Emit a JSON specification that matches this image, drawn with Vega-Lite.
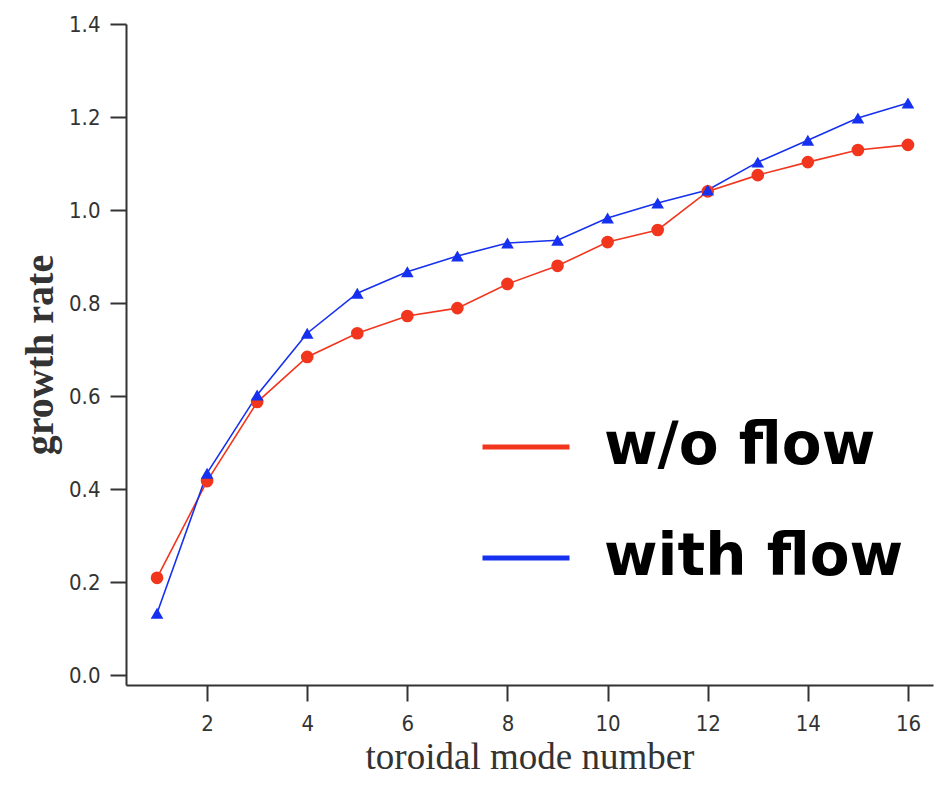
{
  "$schema": "https://vega.github.io/schema/vega-lite/v6.json",
  "width": 807,
  "height": 661,
  "autosize": {"type": "none"},
  "padding": {"left": 126, "top": 24, "right": 1, "bottom": 101},
  "background": "white",
  "config": {
    "view": {"stroke": null},
    "axis": {"grid": false, "domainColor": "#333333", "domainWidth": 2, "tickColor": "#333333", "tickWidth": 2, "labelColor": "#333333", "labelFont": "DejaVu Sans Condensed, Liberation Sans Narrow, sans-serif", "labelFontSize": 22, "titleColor": "#333333"}
  },
  "data": {
    "values": [
      {"n": 1, "rate": 0.209, "case": "w/o flow"},
      {"n": 2, "rate": 0.417, "case": "w/o flow"},
      {"n": 3, "rate": 0.587, "case": "w/o flow"},
      {"n": 4, "rate": 0.684, "case": "w/o flow"},
      {"n": 5, "rate": 0.735, "case": "w/o flow"},
      {"n": 6, "rate": 0.772, "case": "w/o flow"},
      {"n": 7, "rate": 0.789, "case": "w/o flow"},
      {"n": 8, "rate": 0.841, "case": "w/o flow"},
      {"n": 9, "rate": 0.88, "case": "w/o flow"},
      {"n": 10, "rate": 0.931, "case": "w/o flow"},
      {"n": 11, "rate": 0.957, "case": "w/o flow"},
      {"n": 12, "rate": 1.04, "case": "w/o flow"},
      {"n": 13, "rate": 1.075, "case": "w/o flow"},
      {"n": 14, "rate": 1.103, "case": "w/o flow"},
      {"n": 15, "rate": 1.129, "case": "w/o flow"},
      {"n": 16, "rate": 1.14, "case": "w/o flow"},
      {"n": 1, "rate": 0.133, "case": "with flow"},
      {"n": 2, "rate": 0.434, "case": "with flow"},
      {"n": 3, "rate": 0.602, "case": "with flow"},
      {"n": 4, "rate": 0.735, "case": "with flow"},
      {"n": 5, "rate": 0.821, "case": "with flow"},
      {"n": 6, "rate": 0.867, "case": "with flow"},
      {"n": 7, "rate": 0.901, "case": "with flow"},
      {"n": 8, "rate": 0.929, "case": "with flow"},
      {"n": 9, "rate": 0.935, "case": "with flow"},
      {"n": 10, "rate": 0.983, "case": "with flow"},
      {"n": 11, "rate": 1.015, "case": "with flow"},
      {"n": 12, "rate": 1.043, "case": "with flow"},
      {"n": 13, "rate": 1.103, "case": "with flow"},
      {"n": 14, "rate": 1.15, "case": "with flow"},
      {"n": 15, "rate": 1.198, "case": "with flow"},
      {"n": 16, "rate": 1.23, "case": "with flow"}
    ]
  },
  "encoding": {
    "x": {
      "field": "n", "type": "quantitative",
      "scale": {"domain": [0.38, 16.5], "nice": false, "zero": false},
      "axis": {"values": [2, 4, 6, 8, 10, 12, 14, 16], "tickSize": 16, "labelPadding": 12, "title": "toroidal mode number", "titleFont": "Liberation Serif", "titleFontSize": 37, "titleFontWeight": "normal", "titlePadding": 5}
    },
    "y": {
      "field": "rate", "type": "quantitative",
      "scale": {"domain": [-0.0215, 1.4], "nice": false, "zero": false},
      "axis": {"values": [0, 0.2, 0.4, 0.6, 0.8, 1.0, 1.2, 1.4], "format": ".1f", "tickSize": 16, "labelPadding": 10, "title": "growth rate", "titleFont": "Liberation Serif", "titleFontSize": 40, "titleFontWeight": "bold", "titlePadding": 8}
    }
  },
  "resolve": {"legend": {"color": "independent"}},
  "layer": [
    {
      "mark": {"type": "line", "strokeWidth": 1.6},
      "encoding": {
        "color": {
          "field": "case", "type": "nominal",
          "scale": {"domain": ["w/o flow", "with flow"], "range": ["#f2361e", "#1530ee"]},
          "legend": {
            "orient": "none", "legendX": 354, "legendY": 377, "title": null,
            "symbolType": "stroke", "symbolSize": 7569, "symbolStrokeWidth": 5,
            "labelFont": "DejaVu Sans", "labelFontWeight": "bold", "labelFontSize": 58, "labelColor": "black",
            "labelOffset": 32, "rowPadding": 36, "padding": 0, "labelLimit": 400
          }
        }
      }
    },
    {
      "mark": {"type": "point", "filled": true, "opacity": 1},
      "encoding": {
        "color": {"field": "case", "type": "nominal", "scale": {"domain": ["w/o flow", "with flow"], "range": ["#f2361e", "#1530ee"]}, "legend": null},
        "shape": {"field": "case", "type": "nominal", "scale": {"domain": ["w/o flow", "with flow"], "range": ["circle", "triangle-up"]}, "legend": null},
        "size": {"value": 160}
      }
    }
  ]
}
